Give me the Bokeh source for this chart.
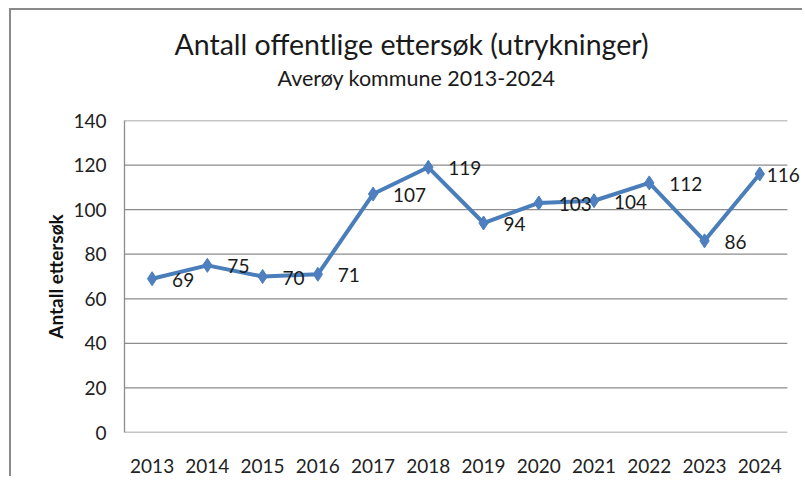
from bokeh.plotting import figure
from bokeh.models import ColumnDataSource, LabelSet, Title, Range1d, FixedTicker
from bokeh.core.properties import value
from bokeh.embed import file_html
from bokeh.resources import INLINE

years = ["2013", "2014", "2015", "2016", "2017", "2018", "2019", "2020", "2021", "2022", "2023", "2024"]
values = [69, 75, 70, 71, 107, 119, 94, 103, 104, 112, 86, 116]
y_ticks = [0, 20, 40, 60, 80, 100, 120, 140]
title_text = "Antall offentlige ettersøk (utrykninger)"
subtitle_text = "Averøy kommune 2013-2024"
y_label = "Antall ettersøk"

FONT = "Lato"
LINE = "#4a7ebb"
GRID = "#8c8c8c"

xs = list(range(len(years)))
# data labels sit to the right of each point; the last one is nudged left to stay inside the chart
label_dx = [20 if i < len(xs) - 1 else 7 for i in xs]
src = ColumnDataSource(dict(x=xs, value=values, label=[str(v) for v in values], dx=label_dx))

p = figure(width=793, height=468, x_range=Range1d(-0.5, 11.81),
           y_range=Range1d(0, 140), output_backend="svg", toolbar_location=None,
           min_border_left=113, min_border_top=110, min_border_right=0, min_border_bottom=46)
p.styles = {"border-left": "2px solid #8a8a8a", "border-top": "2px solid #8a8a8a",
            "margin-left": "9px", "margin-top": "8px"}
p.outline_line_color = None
p.background_fill_color = "white"
p.border_fill_color = "white"

p.xgrid.grid_line_color = None
p.ygrid.grid_line_color = None
p.xaxis.ticker = FixedTicker(ticks=xs)
p.xaxis.major_label_overrides = {i: y for i, y in zip(xs, years)}
p.yaxis.ticker = FixedTicker(ticks=y_ticks)

# horizontal gridlines limited to the category span
p.segment(x0=xs[0] - 0.5, x1=xs[-1] + 0.5, y0=y_ticks, y1=y_ticks, line_color=GRID, line_width=1.3)

for ax in (p.xaxis[0], p.yaxis[0]):
    ax.major_tick_line_color = None
    ax.minor_tick_line_color = None
    ax.major_label_text_font = FONT
    ax.major_label_text_font_size = "19px"
    ax.major_label_text_color = "#222222"
p.xaxis.axis_line_color = None
p.yaxis.axis_line_color = GRID
p.yaxis.axis_line_width = 1.3
p.xaxis.major_label_standoff = 20
p.yaxis.major_label_standoff = 12
p.yaxis.axis_label = y_label
p.yaxis.axis_label_text_font = FONT
p.yaxis.axis_label_text_font_size = "19px"
p.yaxis.axis_label_text_font_style = "bold"
p.yaxis.axis_label_text_color = "#111111"
p.yaxis.axis_label_standoff = 3

p.line("x", "value", source=src, line_color=LINE, line_width=4)
p.scatter("x", "value", source=src, marker="diamond", size=14, fill_color="#4f7fc0", line_color=LINE)

labels = LabelSet(x="x", y="value", text="label", source=src, x_offset="dx", y_offset=-1,
                  text_baseline="middle", text_align="left", text_font=value(FONT),
                  text_font_size=value("19px"), text_color="#1a1a1a")
p.add_layout(labels)

p.add_layout(Title(text=subtitle_text, align="left", offset=153, standoff=60, text_font=FONT,
                   text_font_size="21.5px", text_font_style="normal", text_color="#1a1a1a"), "above")
p.add_layout(Title(text=title_text, align="left", offset=50, standoff=-56, text_font=FONT,
                   text_font_size="28.5px", text_font_style="normal", text_color="#1a1a1a"), "above")

open("out.html", "w").write(file_html(p, INLINE))
